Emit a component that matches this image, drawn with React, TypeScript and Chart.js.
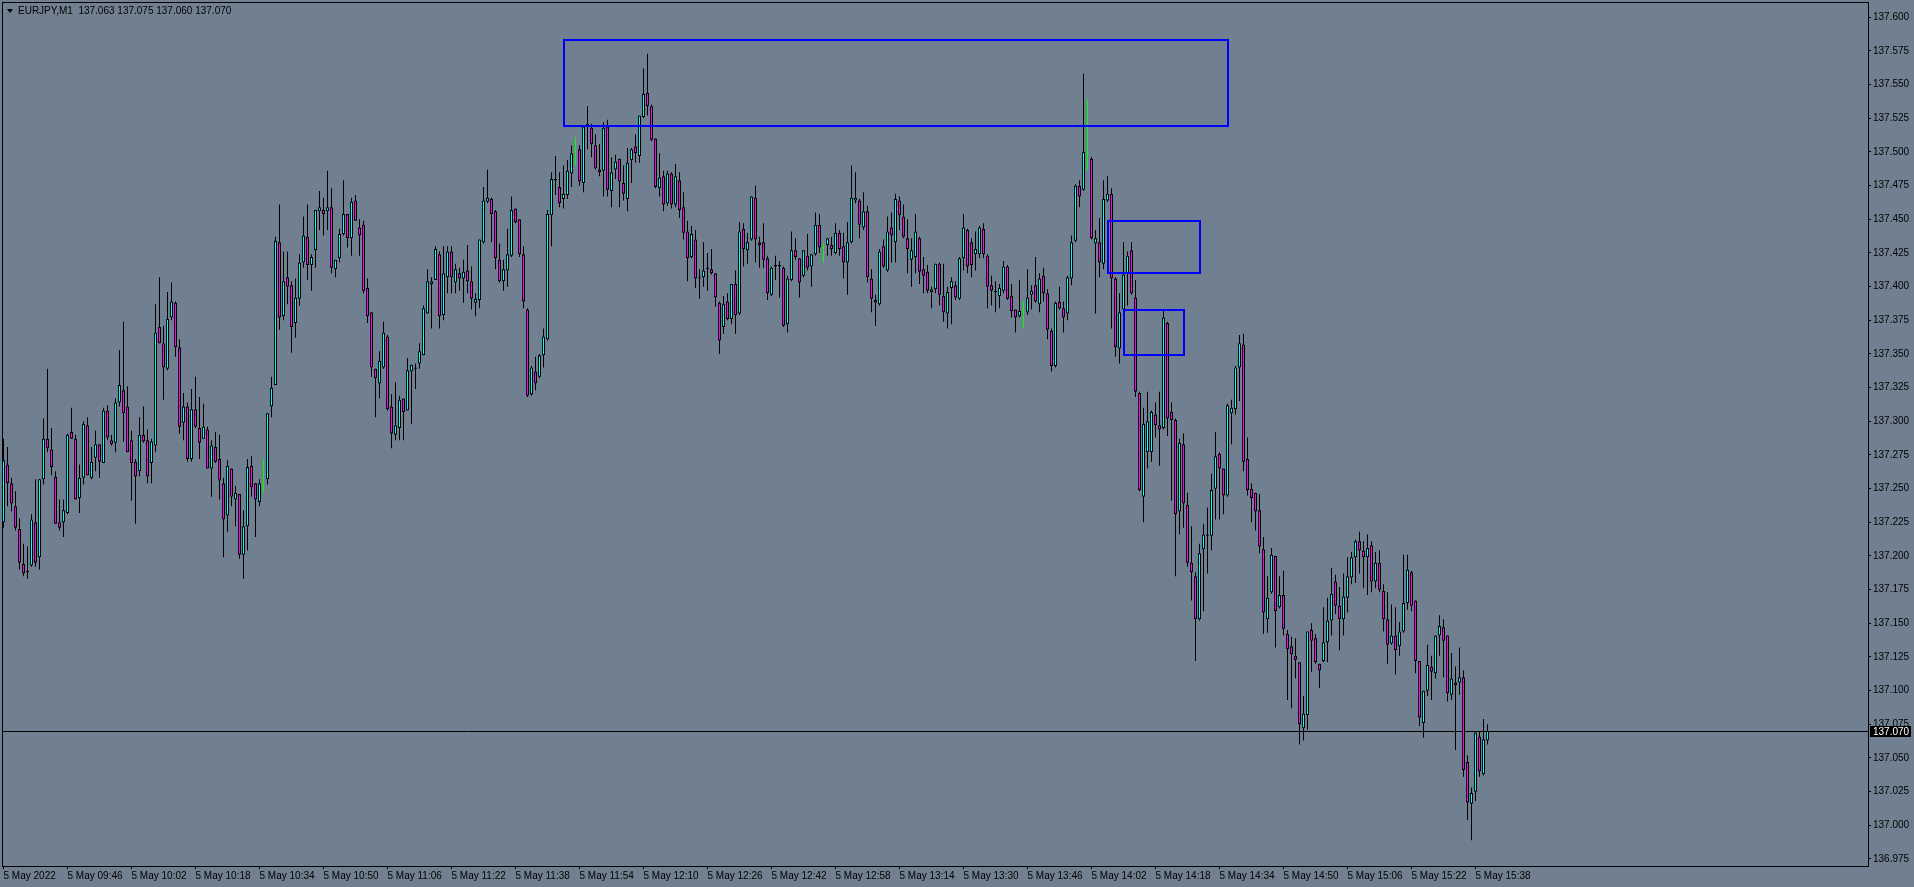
import React, { useEffect, useRef } from "react";
import { Chart, registerables } from "chart.js";

Chart.register(...registerables);

const symbolName = "EURJPY,M1";

const openPrices = [
137.225,137.268,137.254,137.237,137.220,137.194,137.188,137.193,137.225,137.199,
137.257,137.287,137.279,137.259,137.225,137.225,137.232,137.292,137.287,137.243,
137.258,137.297,137.258,137.273,137.283,137.269,137.308,137.286,137.284,137.314,
137.323,137.311,137.286,137.270,137.263,137.290,137.286,137.269,137.282,137.370,
137.358,137.339,137.377,137.388,137.355,137.299,137.311,137.272,137.309,137.295,
137.287,137.294,137.265,137.281,137.272,137.254,137.230,137.265,137.242,137.246,
137.201,137.222,137.267,137.254,137.240,137.253,137.257,137.311,137.327,137.433,
137.378,137.407,137.401,137.373,137.391,137.418,137.437,137.416,137.427,137.456,
137.457,137.456,137.459,137.413,137.421,137.439,137.454,137.436,137.464,137.444,
137.446,137.399,137.381,137.339,137.328,137.340,137.363,137.311,137.290,137.295,
137.317,137.308,137.337,137.340,137.343,137.349,137.380,137.402,137.405,137.424,
137.379,137.407,137.426,137.403,137.410,137.406,137.412,137.404,137.388,137.390,
137.433,137.463,137.465,137.456,137.420,137.404,137.412,137.423,137.458,137.450,
137.424,137.383,137.320,137.337,137.333,137.349,137.361,137.453,137.479,137.474,
137.465,137.468,137.484,137.501,137.502,137.477,137.519,137.518,137.505,137.487,
137.486,137.519,137.471,137.487,137.495,137.477,137.465,137.494,137.504,137.497,
137.526,137.544,137.534,137.510,137.473,137.482,137.462,137.484,137.461,137.479,
137.459,137.441,137.422,137.435,137.406,137.407,137.413,137.413,137.410,137.388,
137.370,137.389,137.376,137.402,137.380,137.443,137.427,137.435,137.466,137.433,
137.433,137.421,137.394,137.415,137.415,137.414,137.372,137.405,137.427,137.421,
137.408,137.423,137.415,137.424,137.446,137.429,137.431,137.431,137.425,137.440,
137.430,137.418,137.433,137.464,137.464,137.444,137.456,137.406,137.390,137.387,
137.430,137.412,137.444,137.433,137.464,137.452,137.436,137.420,137.422,137.436,
137.413,137.411,137.396,137.398,137.417,137.393,137.380,137.399,137.401,137.391,
137.421,137.442,137.433,137.424,137.424,137.443,137.423,137.401,137.396,137.393,
137.397,137.415,137.393,137.383,137.378,137.381,137.381,137.394,137.401,137.387,
137.408,137.395,137.367,137.341,137.389,137.384,137.380,137.406,137.434,137.475,
137.472,137.498,137.495,137.432,137.433,137.417,137.464,137.469,137.406,137.354,
137.383,137.410,137.427,137.392,137.321,137.244,137.277,137.277,137.305,137.297,
137.295,137.373,137.307,137.301,137.233,137.283,137.238,137.195,137.185,137.153,
137.205,137.215,137.215,137.250,137.276,137.265,137.245,137.306,137.309,137.340,
137.357,137.272,137.250,137.247,137.234,137.205,137.153,137.173,137.200,137.162,
137.171,137.142,137.133,137.126,137.121,137.072,137.082,137.145,137.139,137.120,
137.122,137.136,137.152,137.181,137.163,137.153,137.169,137.184,137.199,137.211,
137.204,137.199,137.208,137.181,137.195,137.174,137.153,137.135,137.141,137.133,
137.144,137.165,137.188,137.167,137.122,137.076,137.100,137.118,137.113,137.141,
137.147,137.141,137.097,137.106,137.106,137.110,137.047,137.016,137.025,137.066,
137.038,137.063];

const highPrices = [
137.287,137.281,137.258,137.248,137.228,137.209,137.207,137.231,137.257,137.257,
137.302,137.339,137.295,137.263,137.242,137.242,137.291,137.310,137.290,137.268,
137.300,137.303,137.281,137.293,137.283,137.310,137.312,137.290,137.317,137.353,
137.374,137.326,137.293,137.272,137.303,137.311,137.294,137.287,137.387,137.407,
137.371,137.396,137.403,137.389,137.361,137.321,137.314,137.324,137.333,137.318,
137.313,137.296,137.286,137.292,137.290,137.258,137.271,137.265,137.252,137.246,
137.234,137.272,137.274,137.254,137.257,137.272,137.306,137.333,137.437,137.461,
137.426,137.426,137.404,137.406,137.424,137.452,137.461,137.424,137.457,137.471,
137.466,137.486,137.473,137.420,137.443,137.479,137.454,137.466,137.468,137.450,
137.449,137.406,137.381,137.339,137.352,137.374,137.364,137.320,137.329,137.319,
137.317,137.347,137.342,137.343,137.358,137.386,137.413,137.407,137.430,137.426,
137.430,137.430,137.430,137.417,137.414,137.420,137.431,137.415,137.395,137.435,
137.474,137.487,137.466,137.457,137.432,137.420,137.443,137.467,137.458,137.450,
137.430,137.384,137.341,137.348,137.350,137.369,137.457,137.485,137.497,137.485,
137.490,137.494,137.505,137.511,137.505,137.520,137.534,137.521,137.513,137.506,
137.522,137.524,137.496,137.498,137.495,137.490,137.503,137.503,137.513,137.527,
137.562,137.573,137.535,137.510,137.499,137.486,137.486,137.485,137.491,137.485,
137.470,137.449,137.445,137.442,137.413,137.433,137.425,137.428,137.410,137.389,
137.393,137.395,137.402,137.412,137.448,137.447,137.440,137.467,137.475,137.437,
137.447,137.423,137.415,137.423,137.419,137.415,137.408,137.441,137.436,137.421,
137.427,137.439,137.424,137.455,137.454,137.432,137.436,137.437,137.447,137.442,
137.440,137.448,137.490,137.485,137.465,137.470,137.460,137.413,137.394,137.428,
137.435,137.452,137.455,137.469,137.467,137.461,137.450,137.436,137.454,137.437,
137.422,137.416,137.400,137.417,137.418,137.417,137.400,137.407,137.404,137.422,
137.454,137.443,137.436,137.441,137.445,137.447,137.424,137.408,137.404,137.402,
137.419,137.416,137.402,137.383,137.405,137.389,137.413,137.401,137.422,137.410,
137.414,137.398,137.369,137.389,137.400,137.389,137.408,137.438,137.476,137.479,
137.558,137.539,137.496,137.442,137.451,137.479,137.482,137.473,137.407,137.395,
137.433,137.426,137.433,137.405,137.322,137.310,137.322,137.308,137.314,137.322,
137.383,137.374,137.314,137.302,137.287,137.291,137.247,137.222,137.188,137.209,
137.224,137.236,137.261,137.292,137.277,137.265,137.313,137.316,137.341,137.364,
137.365,137.288,137.254,137.247,137.246,137.214,137.185,137.206,137.200,137.185,
137.189,137.145,137.140,137.139,137.121,137.096,137.144,137.150,137.142,137.120,
137.162,137.169,137.191,137.186,137.177,137.187,137.199,137.203,137.212,137.218,
137.211,137.216,137.211,137.203,137.204,137.179,137.173,137.164,137.162,137.151,
137.201,137.201,137.189,137.167,137.122,137.100,137.134,137.126,137.141,137.156,
137.153,137.141,137.128,137.118,137.132,137.115,137.052,137.028,137.069,137.070,
137.079,137.075];

const lowPrices = [
137.221,137.237,137.233,137.219,137.190,137.185,137.183,137.192,137.192,137.190,
137.253,137.277,137.260,137.224,137.219,137.214,137.231,137.287,137.242,137.232,
137.253,137.260,137.257,137.263,137.258,137.269,137.286,137.282,137.277,137.311,
137.285,137.277,137.241,137.224,137.259,137.284,137.254,137.254,137.277,137.358,
137.316,137.338,137.375,137.348,137.291,137.286,137.270,137.270,137.295,137.272,
137.287,137.265,137.244,137.269,137.242,137.199,137.218,137.237,137.222,137.198,
137.183,137.204,137.244,137.214,137.237,137.247,137.253,137.303,137.327,137.368,
137.375,137.387,137.351,137.362,137.386,137.414,137.405,137.397,137.414,137.442,
137.438,137.442,137.410,137.407,137.418,137.438,137.429,137.423,137.449,137.423,
137.395,137.373,137.333,137.303,137.317,137.339,137.308,137.280,137.286,137.286,
137.286,137.308,137.298,137.324,137.339,137.349,137.380,137.369,137.405,137.369,
137.375,137.395,137.395,137.395,137.397,137.388,137.395,137.383,137.378,137.384,
137.432,137.462,137.433,137.413,137.403,137.397,137.400,137.422,137.447,137.422,
137.384,137.318,137.319,137.323,137.332,137.340,137.360,137.430,137.468,137.459,
137.458,137.465,137.474,137.490,137.475,137.470,137.502,137.496,137.487,137.482,
137.467,137.467,137.459,137.480,137.459,137.464,137.456,137.477,137.492,137.492,
137.525,137.527,137.508,137.473,137.467,137.456,137.460,137.458,137.459,137.451,
137.435,137.404,137.421,137.399,137.391,137.400,137.397,137.409,137.385,137.350,
137.365,137.375,137.372,137.365,137.379,137.415,137.417,137.434,137.418,137.414,
137.414,137.390,137.393,137.405,137.392,137.370,137.366,137.404,137.420,137.392,
137.407,137.412,137.400,137.423,137.425,137.418,137.423,137.423,137.424,137.423,
137.406,137.394,137.432,137.462,137.436,137.442,137.403,137.381,137.371,137.386,
137.414,137.411,137.418,137.418,137.442,137.436,137.410,137.400,137.410,137.402,
137.395,137.395,137.384,137.395,137.386,137.374,137.369,137.372,137.390,137.390,
137.412,137.410,137.407,137.412,137.421,137.421,137.384,137.386,137.381,137.384,
137.395,137.390,137.377,137.366,137.377,137.369,137.379,137.383,137.388,137.381,
137.389,137.361,137.337,137.340,137.383,137.366,137.375,137.401,137.433,137.459,
137.471,137.487,137.435,137.380,137.407,137.413,137.463,137.369,137.348,137.343,
137.382,137.386,137.394,137.318,137.248,137.225,137.265,137.270,137.288,137.267,
137.294,137.289,137.241,137.185,137.216,137.221,137.192,137.167,137.122,137.152,
137.159,137.187,137.204,137.227,137.227,137.231,137.244,137.283,137.305,137.315,
137.263,137.245,137.225,137.219,137.202,137.142,137.143,137.172,137.132,137.161,
137.141,137.093,137.087,137.109,137.060,137.063,137.071,137.114,137.120,137.102,
137.121,137.121,137.141,137.157,137.130,137.141,137.158,137.179,137.180,137.187,
137.176,137.171,137.173,137.176,137.173,137.144,137.120,137.134,137.112,137.126,
137.143,137.160,137.159,137.113,137.074,137.065,137.096,137.093,137.109,137.126,
137.110,137.092,137.093,137.056,137.097,137.036,137.004,136.989,137.018,137.036,
137.037,137.060];

const closePrices = [
137.271,137.254,137.239,137.221,137.195,137.187,137.189,137.227,137.195,137.257,
137.287,137.280,137.266,137.224,137.221,137.234,137.290,137.287,137.242,137.258,
137.298,137.260,137.270,137.283,137.270,137.308,137.288,137.283,137.314,137.327,
137.306,137.277,137.269,137.259,137.290,137.285,137.259,137.285,137.366,137.358,
137.340,137.376,137.389,137.355,137.296,137.311,137.272,137.309,137.296,137.284,
137.296,137.265,137.282,137.270,137.256,137.227,137.267,137.244,137.247,137.201,
137.222,137.266,137.251,137.242,137.254,137.253,137.306,137.325,137.434,137.377,
137.404,137.400,137.370,137.392,137.418,137.438,137.416,137.422,137.457,137.459,
137.454,137.459,137.414,137.420,137.439,137.454,137.436,137.463,137.449,137.438,
137.397,137.378,137.340,137.332,137.345,137.366,137.309,137.291,137.297,137.316,
137.307,137.338,137.342,137.339,137.352,137.384,137.404,137.404,137.428,137.378,
137.410,137.426,137.407,137.413,137.406,137.411,137.404,137.391,137.391,137.435,
137.464,137.466,137.454,137.421,137.404,137.413,137.424,137.457,137.448,137.424,
137.389,137.319,137.340,137.328,137.349,137.363,137.454,137.480,137.480,137.462,
137.469,137.486,137.499,137.501,137.478,137.519,137.521,137.506,137.488,137.485,
137.518,137.472,137.485,137.493,137.478,137.469,137.492,137.502,137.499,137.527,
137.543,137.534,137.509,137.474,137.481,137.461,137.484,137.461,137.482,137.457,
137.440,137.421,137.439,137.406,137.407,137.412,137.414,137.410,137.392,137.360,
137.387,137.376,137.402,137.379,137.441,137.428,137.433,137.467,137.435,137.431,
137.420,137.395,137.414,137.416,137.416,137.371,137.406,137.427,137.422,137.403,
137.427,137.414,137.424,137.446,137.429,137.429,137.436,137.428,137.440,137.428,
137.418,137.433,137.466,137.466,137.446,137.456,137.407,137.391,137.388,137.426,
137.415,137.441,137.438,137.465,137.453,137.437,137.428,137.427,137.441,137.411,
137.408,137.397,137.398,137.417,137.394,137.381,137.396,137.404,137.392,137.421,
137.444,137.415,137.416,137.428,137.444,137.424,137.400,137.397,137.397,137.399,
137.415,137.391,137.382,137.377,137.382,137.381,137.392,137.397,137.389,137.406,
137.395,137.368,137.341,137.388,137.384,137.377,137.407,137.433,137.475,137.467,
137.500,137.498,137.436,137.436,137.418,137.465,137.469,137.406,137.355,137.381,
137.409,137.423,137.395,137.322,137.249,137.298,137.300,137.307,137.297,137.294,
137.377,137.302,137.301,137.231,137.284,137.239,137.195,137.188,137.153,137.202,
137.216,137.216,137.249,137.274,137.265,137.245,137.312,137.310,137.340,137.358,
137.270,137.249,137.243,137.233,137.207,137.158,137.169,137.201,137.159,137.171,
137.146,137.131,137.127,137.123,137.075,137.083,137.144,137.137,137.121,137.115,
137.136,137.152,137.172,137.163,137.153,137.170,137.185,137.199,137.211,137.204,
137.199,137.206,137.181,137.195,137.175,137.153,137.134,137.141,137.130,137.144,
137.165,137.190,137.163,137.122,137.080,137.100,137.119,137.114,137.141,137.148,
137.137,137.098,137.109,137.104,137.110,137.041,137.017,137.024,137.069,137.040,
137.064,137.070];

const timeTickLabels = [
  "5 May 2022", "5 May 09:46", "5 May 10:02", "5 May 10:18", "5 May 10:34", "5 May 10:50",
  "5 May 11:06", "5 May 11:22", "5 May 11:38", "5 May 11:54", "5 May 12:10", "5 May 12:26",
  "5 May 12:42", "5 May 12:58", "5 May 13:14", "5 May 13:30", "5 May 13:46", "5 May 14:02",
  "5 May 14:18", "5 May 14:34", "5 May 14:50", "5 May 15:06", "5 May 15:22", "5 May 15:38",
];
const timeTickBars = [0, 16, 32, 48, 64, 80, 96, 112, 128, 144, 160, 176, 192, 208, 224, 240, 256, 272, 288, 304, 320, 336, 352, 368];

const priceTicks = [
  136.975, 137.0, 137.025, 137.05, 137.075, 137.1, 137.125, 137.15, 137.175, 137.2, 137.225, 137.25, 137.275,
  137.3, 137.325, 137.35, 137.375, 137.4, 137.425, 137.45, 137.475, 137.5, 137.525, 137.55, 137.575, 137.6,
];

const zoneStartBar = [140, 276, 280];
const zoneEndBar = [306, 299, 295];
const zoneTopPrice = [137.583, 137.449, 137.383];
const zoneBottomPrice = [137.519, 137.410, 137.349];

const BG = "#708090";
const BULL = "#00FFFF";
const BEAR = "#FF00FF";
const DOJI = "#00FF00";
const ZONE = "#0000FF";
const FONT = '"Liberation Sans", Arial, sans-serif';

export default function App() {
  const ref = useRef<HTMLCanvasElement>(null);
  const last = closePrices.length - 1;
  const title = `${symbolName}  ${openPrices[last].toFixed(3)} ${highPrices[last].toFixed(3)} ${lowPrices[last].toFixed(3)} ${closePrices[last].toFixed(3)}`;

  useEffect(() => {
    const canvas = ref.current;
    if (!canvas) return;
    const lastPrice = closePrices[closePrices.length - 1];
    const isDoji = (i: number) => openPrices[i] === closePrices[i];
    const bodyData = closePrices.map((c, i) => ({ x: i, y: [openPrices[i], c] }));
    const wickData = closePrices.map((_, i) => ({ x: i, y: [lowPrices[i], highPrices[i]] }));

    const overlay = {
      id: "mtOverlay",
      beforeDraw(chart: any) {
        const ctx = chart.ctx;
        ctx.save();
        ctx.fillStyle = BG;
        ctx.fillRect(0, 0, chart.width, chart.height);
        ctx.restore();
      },
      beforeDatasetsDraw(chart: any) {
        const ctx = chart.ctx;
        const { left, right } = chart.chartArea;
        const y = Math.floor(chart.scales.y.getPixelForValue(lastPrice)) + 0.5;
        ctx.save();
        ctx.strokeStyle = "#000";
        ctx.lineWidth = 1;
        ctx.beginPath();
        ctx.moveTo(left, y);
        ctx.lineTo(right, y);
        ctx.stroke();
        ctx.restore();
      },
      afterDatasetsDraw(chart: any) {
        const ctx = chart.ctx;
        const xs = chart.scales.x;
        const ys = chart.scales.y;
        ctx.save();
        ctx.strokeStyle = ZONE;
        ctx.lineWidth = 2;
        for (let k = 0; k < zoneStartBar.length; k++) {
          const x1 = Math.round(xs.getPixelForValue(zoneStartBar[k]));
          const x2 = Math.round(xs.getPixelForValue(zoneEndBar[k]));
          const y1 = Math.round(ys.getPixelForValue(zoneTopPrice[k]));
          const y2 = Math.round(ys.getPixelForValue(zoneBottomPrice[k]));
          ctx.strokeRect(x1, y1, x2 - x1, y2 - y1);
        }
        ctx.restore();
      },
      afterDraw(chart: any) {
        const ctx = chart.ctx;
        const { left, right, top, bottom } = chart.chartArea;
        ctx.save();
        ctx.strokeStyle = "#000";
        ctx.lineWidth = 1;
        ctx.strokeRect(left + 0.5, top + 0.5, right - left, bottom - top);
        const y = Math.floor(chart.scales.y.getPixelForValue(lastPrice));
        ctx.fillStyle = "#000";
        ctx.fillRect(right + 2, y - 5, 41, 11);
        ctx.fillStyle = "#FFFFFF";
        ctx.font = `10px ${FONT}`;
        ctx.textBaseline = "middle";
        ctx.textAlign = "left";
        ctx.fillText(lastPrice.toFixed(3), right + 5, y + 1);
        ctx.restore();
      },
    };

    const chart = new Chart(canvas, {
      type: "bar",
      data: {
        datasets: [
          {
            label: "wick",
            data: wickData as any,
            backgroundColor: (c: any) => (isDoji(c.dataIndex) ? DOJI : "#000000"),
            borderWidth: 0,
            grouped: false,
            barPercentage: 1,
            maxBarThickness: 1,
            inflateAmount: 0,
            order: 2,
          } as any,
          {
            label: "body",
            data: bodyData as any,
            backgroundColor: (c: any) => {
              const i = c.dataIndex;
              if (isDoji(i)) return DOJI;
              return closePrices[i] > openPrices[i] ? BULL : BEAR;
            },
            borderColor: (c: any) => (isDoji(c.dataIndex) ? DOJI : "#000000"),
            borderWidth: 1,
            borderSkipped: false,
            grouped: false,
            barPercentage: 1,
            maxBarThickness: 3,
            minBarLength: 1,
            inflateAmount: 0,
            order: 1,
          } as any,
        ],
      },
      options: {
        responsive: false,
        animation: false,
        devicePixelRatio: 1,
        events: [],
        layout: { padding: { left: 2, top: 2, right: 0, bottom: 0 } },
        plugins: { legend: { display: false }, tooltip: { enabled: false }, title: { display: false } },
        scales: {
          x: {
            type: "linear",
            min: -0.375,
            max: 466.125,
            offset: false,
            afterBuildTicks: (s: any) => {
              s.ticks = timeTickBars.map((v) => ({ value: v }));
            },
            afterFit: (s: any) => {
              s.height = 21;
              s.paddingLeft = 0;
              s.paddingRight = 0;
              s.paddingTop = 0;
              s.paddingBottom = 0;
            },
            ticks: {
              autoSkip: false,
              maxRotation: 0,
              minRotation: 0,
              align: "start",
              padding: 1,
              color: "#000",
              font: { family: FONT, size: 10 },
              callback: (_v: any, i: number) => timeTickLabels[i],
            },
            grid: { drawOnChartArea: false, offset: false, color: "#000", tickLength: 3, lineWidth: 1 },
            border: { display: false },
          } as any,
          y: {
            type: "linear",
            position: "right",
            min: 136.96979,
            max: 137.61136,
            beginAtZero: false,
            afterBuildTicks: (s: any) => {
              s.ticks = priceTicks.map((v) => ({ value: v }));
            },
            afterFit: (s: any) => {
              s.width = 46;
              s.paddingTop = 0;
              s.paddingBottom = 0;
              s.paddingLeft = 0;
              s.paddingRight = 0;
            },
            ticks: {
              autoSkip: false,
              padding: 2,
              color: "#000",
              font: { family: FONT, size: 10 },
              callback: (v: any) => Number(v).toFixed(3),
            },
            grid: { drawOnChartArea: false, color: "#000", tickLength: 3, lineWidth: 1 },
            border: { display: false },
          } as any,
        },
      },
      plugins: [overlay],
    });
    return () => chart.destroy();
  }, []);

  return (
    <div style={{ position: "absolute", left: 0, top: 0, width: 1914, height: 887, overflow: "hidden" }}>
      <canvas ref={ref} width={1914} height={887} style={{ display: "block", width: 1914, height: 887 }} />
      <div
        style={{
          position: "absolute",
          left: 7,
          top: 9,
          width: 0,
          height: 0,
          borderLeft: "3px solid transparent",
          borderRight: "3px solid transparent",
          borderTop: "4px solid #000",
        }}
      />
      <div
        style={{
          position: "absolute",
          left: 18,
          top: 5,
          font: `10px ${FONT}`,
          lineHeight: "12px",
          color: "#000",
          whiteSpace: "pre",
        }}
      >
        {title}
      </div>
    </div>
  );
}
